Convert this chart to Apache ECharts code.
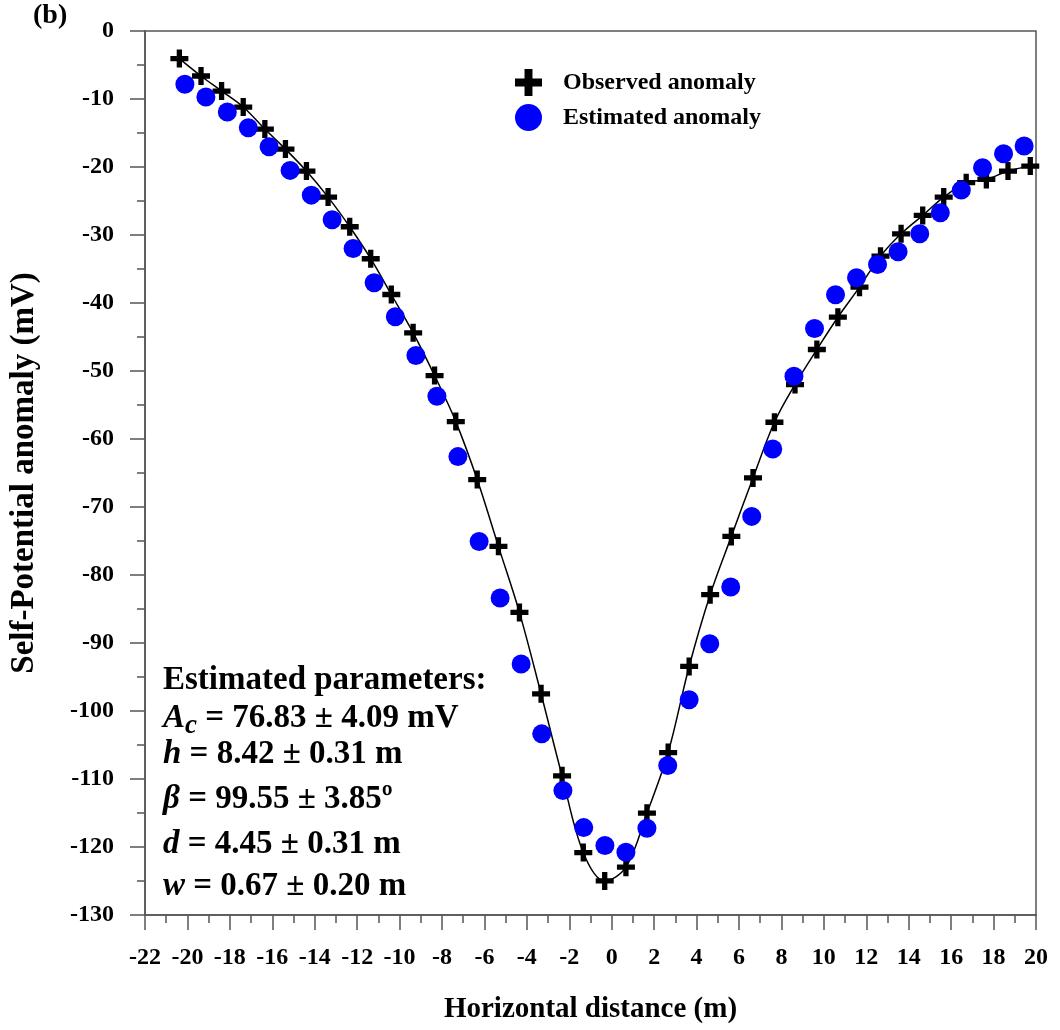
<!DOCTYPE html>
<html>
<head>
<meta charset="utf-8">
<script src="https://cdn.jsdelivr.net/npm/echarts@6/dist/echarts.min.js"></script>
<style>
  html, body { margin: 0; padding: 0; background: #fff; }
  #chart { width: 1060px; height: 1030px; }
</style>
</head>
<body>
<div id="chart"></div>
<script>
// observed anomaly (crosses)
const obsX = [-20.38, -19.36, -18.39, -17.37, -16.35, -15.38, -14.39, -13.37, -12.35, -11.36,
  -10.39, -9.36, -8.35, -7.35, -6.34, -5.34, -4.35, -3.33, -2.34, -1.34,
  -0.33, 0.67, 1.66, 2.66, 3.65, 4.64, 5.64, 6.66, 7.67, 8.64,
  9.67, 10.66, 11.68, 12.67, 13.64, 14.66, 15.65, 16.71, 17.66, 18.68, 19.73]
const obsY = [-4.06, -6.62, -8.83, -11.18, -14.42, -17.37, -20.60, -24.43, -28.79, -33.49,
  -38.75, -44.39, -50.67, -57.44, -65.97, -75.79, -85.50, -97.47, -109.54, -120.82,
  -124.99, -122.97, -115.03, -106.11, -93.45, -82.90, -74.32, -65.72, -57.54, -51.99,
  -46.84, -42.09, -37.67, -33.11, -29.82, -27.12, -24.43, -22.31, -21.82, -20.60, -19.87]

// estimated anomaly (circles)
const estX = [-20.12, -19.13, -18.12, -17.13, -16.15, -15.16, -14.16, -13.18, -12.19, -11.20,
  -10.20, -9.23, -8.24, -7.25, -6.25, -5.26, -4.27, -3.30, -2.30, -1.32,
  -0.32, 0.67, 1.66, 2.64, 3.65, 4.62, 5.61, 6.60, 7.59, 8.59,
  9.56, 10.55, 11.54, 12.53, 13.50, 14.52, 15.49, 16.48, 17.48, 18.47, 19.44]
const estY = [-7.84, -9.71, -11.92, -14.22, -17.01, -20.50, -24.14, -27.76, -31.98, -37.03,
  -42.03, -47.73, -53.72, -62.59, -75.06, -83.38, -93.10, -103.36, -111.70, -117.15,
  -119.79, -120.77, -117.23, -108.02, -98.35, -90.11, -81.77, -71.38, -61.46, -50.77,
  -43.75, -38.79, -36.29, -34.33, -32.46, -29.82, -26.73, -23.40, -20.10, -18.04, -16.92]

const xTicks = { min: -22, max: 20, step: 2 }
const yTicks = { min: -130, max: 0, step: 10 }

const FONT = '"Liberation Serif", "Times New Roman", serif'
const CROSS = 'path://M6,0H11V6H17V11H11V17H6V11H0V6H6Z'
const axisGray = '#555'
const PFONT = 33

const chart = echarts.init(document.getElementById('chart'))

const zip = (xs, ys) => xs.map((x, i) => [x, ys[i]])

function paramLine(top, symbol, rest) {
  return {
    type: 'text', left: 163, top,
    style: {
      text: '{i|' + symbol + '}{n|' + rest + '}',
      rich: {
        i: { font: 'italic bold ' + PFONT + 'px ' + FONT, fill: '#000' },
        n: { font: 'bold ' + PFONT + 'px ' + FONT, fill: '#000' },
      },
    },
  }
}

chart.setOption({
  animation: false,
  grid: {
    left: 143, top: 31, right: 24, bottom: 115,
    show: true, borderColor: axisGray, borderWidth: 1.5,
  },
  legend: {
    left: 510, top: 64, orient: 'vertical',
    itemWidth: 27, itemHeight: 27, itemGap: 8,
    data: [
      { name: 'Observed anomaly', icon: CROSS },
      { name: 'Estimated anomaly', icon: 'circle' },
    ],
    textStyle: { fontFamily: FONT, fontWeight: 'bold', fontSize: 24, color: '#000', padding: [0, 0, 0, 16] },
  },
  xAxis: {
    type: 'value',
    min: xTicks.min, max: xTicks.max, interval: xTicks.step,
    name: 'Horizontal distance (m)',
    nameLocation: 'middle', nameGap: 80,
    nameTextStyle: { fontFamily: FONT, fontWeight: 'bold', fontSize: 29, color: '#000' },
    axisLine: { onZero: false, lineStyle: { color: axisGray, width: 1.5 } },
    axisTick: { length: 15, lineStyle: { color: axisGray, width: 1.5 } },
    minorTick: { show: true, splitNumber: 2, length: 8, lineStyle: { color: axisGray, width: 1.5 } },
    axisLabel: { margin: 31, fontFamily: FONT, fontWeight: 'bold', fontSize: 24, color: '#000' },
    splitLine: { show: false },
  },
  yAxis: {
    type: 'value',
    min: yTicks.min, max: yTicks.max, interval: yTicks.step,
    name: 'Self-Potential anomaly (mV)',
    nameLocation: 'middle', nameGap: 104,
    nameTextStyle: { fontFamily: FONT, fontWeight: 'bold', fontSize: 33, color: '#000' },
    axisLine: { onZero: false, lineStyle: { color: axisGray, width: 1.5 } },
    axisTick: { length: 15, lineStyle: { color: axisGray, width: 1.5 } },
    minorTick: { show: true, splitNumber: 2, length: 8, lineStyle: { color: axisGray, width: 1.5 } },
    axisLabel: { margin: 31, fontFamily: FONT, fontWeight: 'bold', fontSize: 24, color: '#000' },
    splitLine: { show: false },
  },
  series: [
    {
      name: 'fit',
      type: 'line',
      data: zip(obsX, obsY),
      smooth: 0.35,
      showSymbol: false,
      lineStyle: { color: '#000', width: 1.5 },
      z: 1,
    },
    {
      name: 'Observed anomaly',
      type: 'scatter',
      data: zip(obsX, obsY),
      symbol: CROSS,
      symbolSize: 18,
      itemStyle: { color: '#000', opacity: 1 },
      z: 2,
    },
    {
      name: 'Estimated anomaly',
      type: 'scatter',
      data: zip(estX, estY),
      symbol: 'circle',
      symbolSize: 19,
      itemStyle: { color: '#0000ff', opacity: 1 },
      z: 3,
    },
  ],
  graphic: [
    {
      type: 'text', left: 33, top: 2,
      style: { text: '(b)', font: 'bold 28px ' + FONT, fill: '#000' },
    },
    {
      type: 'text', left: 163, top: 664,
      style: { text: 'Estimated parameters:', font: 'bold 33px ' + FONT, fill: '#000' },
    },
    {
      type: 'text', left: 163, top: 702,
      style: {
        text: '{i|A}{s|c}{n| = 76.83 ± 4.09 mV}',
        rich: {
          i: { font: 'italic bold ' + PFONT + 'px ' + FONT, fill: '#000', lineHeight: 42, verticalAlign: 'middle' },
          s: { font: 'italic bold 27px ' + FONT, fill: '#000', lineHeight: 28, verticalAlign: 'bottom' },
          n: { font: 'bold ' + PFONT + 'px ' + FONT, fill: '#000', lineHeight: 42, verticalAlign: 'middle' },
        },
      },
    },
    paramLine(738, 'h', ' = 8.42 ± 0.31 m'),
    paramLine(783, 'β', ' = 99.55 ± 3.85º'),
    paramLine(828, 'd', ' = 4.45 ± 0.31 m'),
    paramLine(870, 'w', ' = 0.67 ± 0.20 m'),
  ],
})

window.addEventListener('resize', () => chart.resize())
</script>
</body>
</html>
